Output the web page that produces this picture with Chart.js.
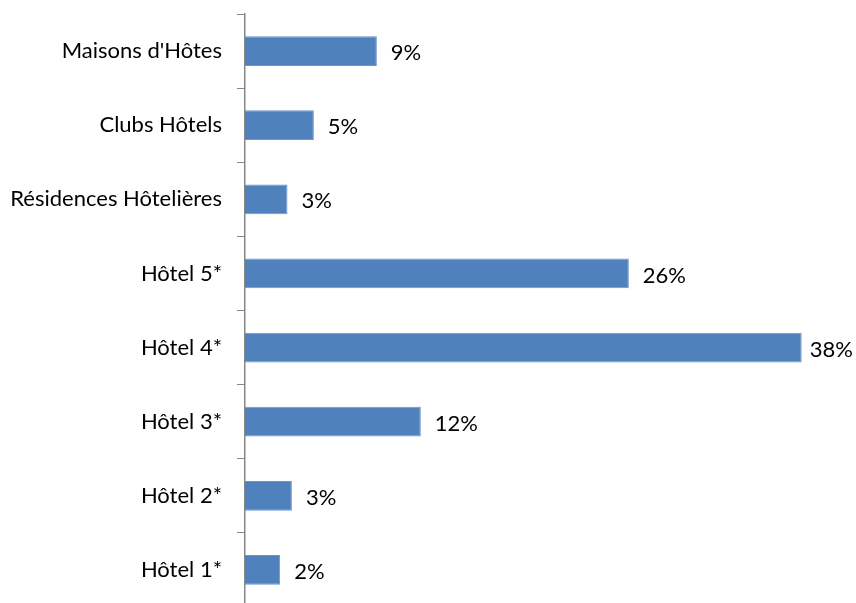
<!DOCTYPE html>
<html>
<head>
<meta charset="utf-8">
<script src="https://cdn.jsdelivr.net/npm/chart.js@4"></script>
<style>
  html, body { margin: 0; padding: 0; background: #fff; overflow: hidden; }
  #wrap { width: 856px; height: 607px; }
</style>
</head>
<body>
<div id="wrap"><canvas id="barChart"></canvas></div>
<script>
// categories, top to bottom
var categories = ["Maisons d'Hôtes", 'Clubs Hôtels', 'Résidences Hôtelières', 'Hôtel 5*', 'Hôtel 4*', 'Hôtel 3*', 'Hôtel 2*', 'Hôtel 1*'];
// shares in percent
var shares = [9.0, 4.7, 2.9, 26.2, 38.0, 12.0, 3.2, 2.4];

var fontFamily = 'Lato, "Open Sans", sans-serif';
var fontSize = 22;

// value labels at the end of each bar, pushed back inside the canvas if needed
var barLabels = {
    id: 'barLabels',
    afterDatasetsDraw: function(chart) {
        var ctx = chart.ctx;
        var meta = chart.getDatasetMeta(0);
        ctx.save();
        ctx.font = fontSize + 'px ' + fontFamily;
        ctx.fillStyle = '#000';
        ctx.textAlign = 'left';
        ctx.textBaseline = 'middle';
        meta.data.forEach(function(bar, i) {
            var txt = Math.round(shares[i]) + '%';
            var w = ctx.measureText(txt).width;
            var x = Math.min(bar.x + 14, chart.width - w - 3);
            ctx.fillText(txt, x, bar.y + 2);
        });
        ctx.restore();
    }
};

var ctx = document.getElementById('barChart').getContext('2d');
var barChart = new Chart(ctx, {
    type: 'bar',
    data: {
        labels: categories,
        datasets: [{
            data: shares,
            backgroundColor: '#4F81BD',
            borderColor: '#6b95c8',
            borderWidth: 1,
            barPercentage: 0.4,
            categoryPercentage: 1.0
        }]
    },
    options: {
        indexAxis: 'y',
        responsive: true,
        maintainAspectRatio: false,
        animation: false,
        layout: { padding: { top: 14, right: 25, left: 0, bottom: 0 } },
        plugins: {
            legend: { display: false },
            tooltip: { enabled: false }
        },
        scales: {
            x: {
                display: false,
                min: 0,
                max: 40
            },
            y: {
                afterFit: function(scale) {
                    // fixed label column, no extra room for half labels at the ends
                    scale.width = 245;
                    scale.paddingTop = 0;
                    scale.paddingBottom = 0;
                },
                grid: {
                    drawOnChartArea: false,
                    drawTicks: true,
                    tickLength: 8,
                    color: '#868686',
                    offset: true
                },
                border: { color: '#868686', width: 1.5 },
                ticks: {
                    color: '#000',
                    padding: 15,
                    font: { family: fontFamily, size: fontSize }
                }
            }
        }
    },
    plugins: [barLabels]
});
</script>
</body>
</html>
